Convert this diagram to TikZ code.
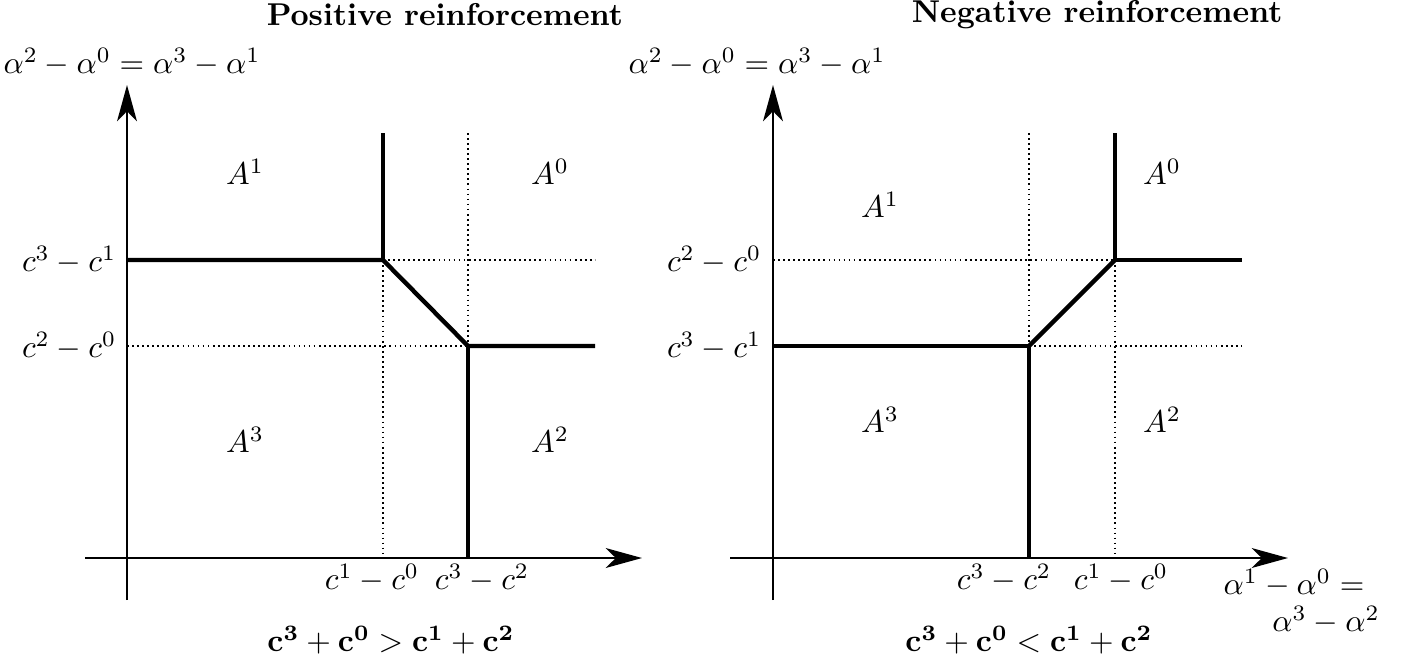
\documentclass[tikz,border=0pt]{standalone}
\usepackage{amsmath}
\usetikzlibrary{arrows.meta}
\begin{document}
\begin{tikzpicture}[x=0.317pt,y=-0.317pt,
  axis/.style={line width=0.85pt,-{Stealth[length=11.5pt,width=6.3pt,inset=3.2pt]}},
  bound/.style={line width=1.4pt},
  guide/.style={line width=0.55pt,dash pattern=on 0.55pt off 1.05pt},
  lbl/.style={inner sep=1pt},
  ttl/.style={inner sep=1pt,font=\bfseries}]
\useasboundingbox (0,0) rectangle (1409,661);
% ---------- left panel ----------
\coordinate (ly0) at (127,600); \coordinate (ly1) at (127,85);
\coordinate (lx0) at (85,558);  \coordinate (lx1) at (642,558);
\coordinate (P) at (383,260); \coordinate (Q) at (468,346);
\coordinate (Ptop) at (383,133); \coordinate (Pleft) at (127,260);
\coordinate (Pright) at (595,260); \coordinate (Pbot) at (383,558);
\coordinate (Qtop) at (468,133); \coordinate (Qleft) at (127,346);
\coordinate (Qright) at (595,346); \coordinate (Qbot) at (468,558);
\draw[guide] (P) -- (Pright);
\draw[guide] (Qtop) -- (Q);
\draw[guide] (P) -- (Pbot);
\draw[guide] (Qleft) -- (Q);
\draw[axis] (ly0) -- (ly1);
\draw[axis] (lx0) -- (lx1);
\draw[bound] (Ptop) -- (P);
\draw[bound] (Pleft) -- (P) -- (Q) -- (Qright);
\draw[bound] (Q) -- (Qbot);
\node[ttl,anchor=west] (ltitle) at (263,15) {Positive reinforcement};
\node[lbl] (lylab) at (132,62) {$\alpha^2-\alpha^0=\alpha^3-\alpha^1$};
\node[lbl,anchor=east] (lc31) at (120,260) {$c^3-c^1$};
\node[lbl,anchor=east] (lc20) at (120,346) {$c^2-c^0$};
\node[lbl] (lc10) at (372,578) {$c^1-c^0$};
\node[lbl] (lc32) at (482,578) {$c^3-c^2$};
\node[lbl] (lA1) at (245,172) {$A^1$};
\node[lbl] (lA0) at (550,172) {$A^0$};
\node[lbl] (lA3) at (245,440) {$A^3$};
\node[lbl] (lA2) at (550,440) {$A^2$};
\node[lbl] (lcond) at (391,640) {$\mathbf{c^3+c^0>c^1+c^2}$};
% ---------- right panel ----------
\coordinate (ry0) at (773,600); \coordinate (ry1) at (773,85);
\coordinate (rx0) at (730,558); \coordinate (rx1) at (1288,558);
\coordinate (R) at (1115,260); \coordinate (S) at (1029,346);
\coordinate (Rtop) at (1115,133); \coordinate (Rleft) at (773,260);
\coordinate (Rright) at (1242,260); \coordinate (Rbot) at (1115,558);
\coordinate (Stop) at (1029,133); \coordinate (Sleft) at (773,346);
\coordinate (Sright) at (1242,346); \coordinate (Sbot) at (1029,558);
\draw[guide] (Rleft) -- (R);
\draw[guide] (Stop) -- (S);
\draw[guide] (R) -- (Rbot);
\draw[guide] (S) -- (Sright);
\draw[axis] (ry0) -- (ry1);
\draw[axis] (rx0) -- (rx1);
\draw[bound] (Rtop) -- (R) -- (Rright);
\draw[bound] (R) -- (S);
\draw[bound] (Sleft) -- (S) -- (Sbot);
\node[ttl,anchor=west] (rtitle) at (908,15) {Negative reinforcement};
\node[lbl] (rylab) at (757,62) {$\alpha^2-\alpha^0=\alpha^3-\alpha^1$};
\node[lbl,anchor=east] (rc20) at (765,260) {$c^2-c^0$};
\node[lbl,anchor=east] (rc31) at (765,346) {$c^3-c^1$};
\node[lbl] (rc32) at (1004,578) {$c^3-c^2$};
\node[lbl] (rc10) at (1121,578) {$c^1-c^0$};
\node[lbl] (rxlabA) at (1294,583) {$\alpha^1-\alpha^0=$};
\node[lbl] (rxlabB) at (1326,620) {$\alpha^3-\alpha^2$};
\node[lbl] (rA1) at (880,205) {$A^1$};
\node[lbl] (rA0) at (1162,172) {$A^0$};
\node[lbl] (rA3) at (880,420) {$A^3$};
\node[lbl] (rA2) at (1162,420) {$A^2$};
\node[lbl] (rcond) at (1029,640) {$\mathbf{c^3+c^0<c^1+c^2}$};
\end{tikzpicture}
\end{document}
